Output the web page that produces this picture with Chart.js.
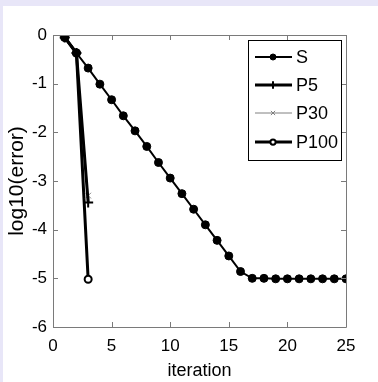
<!DOCTYPE html>
<html>
<head>
<meta charset="utf-8">
<script src="https://cdn.jsdelivr.net/npm/chart.js@4/dist/chart.umd.min.js"></script>
<style>
html,body{margin:0;padding:0;background:#e8e6f8;}
#wrap{position:absolute;left:0;top:0;width:378px;height:382px;}
</style>
</head>
<body>
<div id="wrap"><canvas id="c" width="378" height="382"></canvas></div>
<script>
// ---- data ----
const iterS = [1,2,3,4,5,6,7,8,9,10,11,12,13,14,15,16,17,18,19,20,21,22,23,24,25];
const valS = [-0.05,-0.37,-0.68,-1.01,-1.33,-1.66,-1.97,-2.29,-2.62,-2.94,-3.26,-3.58,-3.90,-4.22,-4.54,-4.86,-5.00,-5.00,-5.01,-5.01,-5.01,-5.01,-5.01,-5.01,-5.01];
const iterP = [1,2,3];
const valP5 = [-0.05,-0.37,-3.44];
const valP30 = [-0.05,-0.37,-3.30];
const valP100 = [-0.05,-0.37,-5.02];
const seriesNames = ['S','P5','P30','P100'];
const xTicks = [0,5,10,15,20,25];
const yTicks = [0,-1,-2,-3,-4,-5,-6];

const FONT = '"Liberation Sans", Arial, sans-serif';
const toXY = (xs, ys) => xs.map((x,i)=>({x:x, y:ys[i]}));

const datasets = [
  {label:seriesNames[0], data:toXY(iterS,valS), borderColor:'#000', backgroundColor:'#000', borderWidth:2,
   pointStyle:'circle', pointRadius:4, pointBorderWidth:1, pointBackgroundColor:'#000', pointBorderColor:'#000'},
  {label:seriesNames[1], data:toXY(iterP,valP5), borderColor:'#000', backgroundColor:'#000', borderWidth:3,
   pointStyle:'cross', pointRadius:5, pointBorderWidth:2, pointBorderColor:'#000'},
  {label:seriesNames[2], data:toXY(iterP,valP30), borderColor:'#808080', backgroundColor:'#808080', borderWidth:1,
   pointStyle:'crossRot', pointRadius:4, pointBorderWidth:1, pointBorderColor:'#808080'},
  {label:seriesNames[3], data:toXY(iterP,valP100), borderColor:'#000', backgroundColor:'#fff', borderWidth:3,
   pointStyle:'circle', pointRadius:3.5, pointBorderWidth:2, pointBorderColor:'#000', pointBackgroundColor:'#fff'}
];

const framePlugin = {
  id:'frame',
  beforeDraw(chart){
    const ctx = chart.ctx;
    ctx.save();
    ctx.fillStyle = '#e8e6f8';
    ctx.fillRect(0,0,378,382);
    ctx.fillStyle = '#ffffff';
    ctx.fillRect(3,6,375,376);
    ctx.restore();
  },
  afterDatasetsDraw(chart){
    const ctx = chart.ctx;
    const a = chart.chartArea;
    const xs = chart.scales.x, ys = chart.scales.y;
    ctx.save();
    ctx.strokeStyle = '#7a7a7a';
    ctx.lineWidth = 1;
    ctx.beginPath();
    ctx.rect(Math.round(a.left)+0.5, Math.round(a.top)+0.5, Math.round(a.right-a.left), Math.round(a.bottom-a.top));
    const tl = 5;
    xTicks.forEach(v=>{
      const px = Math.round(xs.getPixelForValue(v))+0.5;
      ctx.moveTo(px, a.bottom); ctx.lineTo(px, a.bottom-tl);
      ctx.moveTo(px, a.top); ctx.lineTo(px, a.top+tl);
    });
    yTicks.forEach(v=>{
      const py = Math.round(ys.getPixelForValue(v))+0.5;
      ctx.moveTo(a.left, py); ctx.lineTo(a.left+tl, py);
      ctx.moveTo(a.right, py); ctx.lineTo(a.right-tl, py);
    });
    ctx.stroke();
    ctx.restore();
  },
  afterDraw(chart){
    // legend box
    const ctx = chart.ctx;
    const bx=248, by=40, bw=93, bh=120;
    ctx.save();
    ctx.fillStyle='#fff';
    ctx.fillRect(bx,by,bw,bh);
    ctx.strokeStyle='#000';
    ctx.lineWidth=1;
    ctx.strokeRect(bx+0.5,by+0.5,bw,bh);
    const rows=[57,85,113,142];
    chart.data.datasets.forEach((ds,i)=>{
      const y=rows[i];
      ctx.strokeStyle=ds.borderColor;
      ctx.lineWidth=ds.borderWidth;
      ctx.beginPath(); ctx.moveTo(255,y); ctx.lineTo(292,y); ctx.stroke();
      ctx.fillStyle = ds.pointBackgroundColor || ds.backgroundColor;
      ctx.strokeStyle = ds.pointBorderColor;
      ctx.lineWidth = ds.pointBorderWidth;
      ctx.beginPath();
      Chart.helpers.drawPoint(ctx,{pointStyle:ds.pointStyle, radius:ds.pointRadius*0.75, rotation:0, borderWidth:ds.pointBorderWidth},273,y);
      ctx.fillStyle='#000';
      ctx.font='18px '+FONT;
      ctx.textBaseline='middle';
      ctx.textAlign='left';
      ctx.fillText(ds.label,296,y+1);
    });
    ctx.restore();
  }
};

new Chart(document.getElementById('c'), {
  type:'line',
  data:{datasets:datasets},
  options:{
    responsive:false,
    animation:false,
    devicePixelRatio:1,
    layout:{padding:{left:0,top:35,right:32,bottom:0}},
    plugins:{legend:{display:false}, tooltip:{enabled:false}},
    elements:{line:{tension:0}},
    scales:{
      x:{type:'linear', min:0, max:25,
        afterBuildTicks(s){ s.ticks = xTicks.map(v=>({value:v})); },
        afterFit(s){ s.height = 55; },
        grid:{display:false, drawTicks:false},
        border:{display:false},
        ticks:{color:'#000', padding:9, font:{family:FONT, size:17}, maxRotation:0},
        title:{display:true, text:'iteration', color:'#000', font:{family:FONT, size:18}, padding:{top:0,bottom:0}}
      },
      y:{type:'linear', min:-6, max:0,
        afterBuildTicks(s){ s.ticks = yTicks.map(v=>({value:v})); },
        afterFit(s){ s.width = 53; },
        grid:{display:false, drawTicks:false},
        border:{display:false},
        ticks:{color:'#000', padding:6, font:{family:FONT, size:17}},
        title:{display:true, text:'log10(error)', color:'#000', font:{family:FONT, size:21}, padding:{top:5,bottom:0}}
      }
    }
  },
  plugins:[framePlugin]
});
</script>
</body>
</html>
